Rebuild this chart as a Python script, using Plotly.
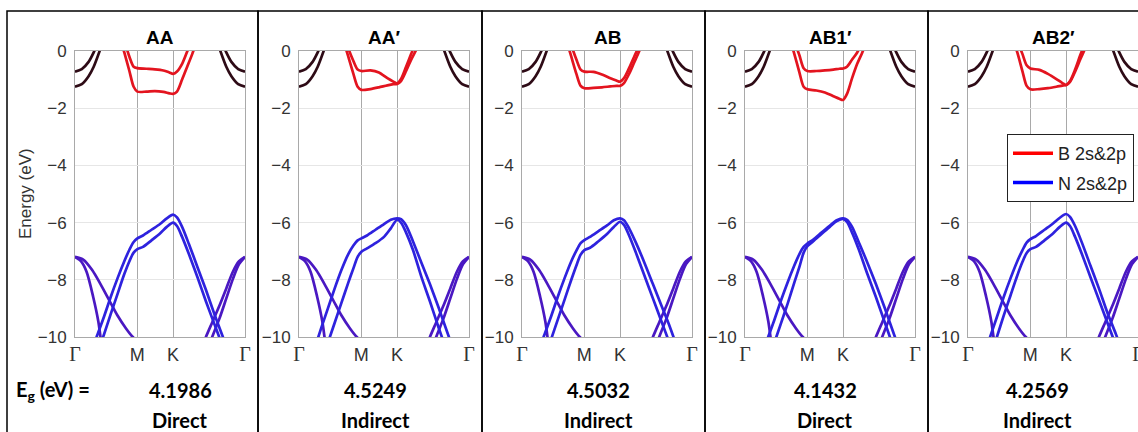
import plotly.graph_objects as go

W, H = 1138, 432

PANEL_TITLES = ["AA", "AA′", "AB", "AB1′", "AB2′"]
EG_VALUES = ["4.1986", "4.5249", "4.5032", "4.1432", "4.2569"]
GAP_TYPES = ["Direct", "Indirect", "Indirect", "Direct", "Indirect"]

K_M = 0.366
K_K = 0.577
X_TICKS = [0.0, K_M, K_K, 1.0]
X_TICK_LABELS = ["Γ", "M", "K", "Γ"]
Y_TICKS = [0, -2, -4, -6, -8, -10]
Y_TICK_LABELS = ["0", "−2", "−4", "−6", "−8", "−10"]

# conduction bands near Gamma (dark, interlayer states) - shared by all panels
CB_GL_K = [0.0, 0.04, 0.08, 0.11, 0.145, 0.17]
CB_GR_K = [1.0, 0.96, 0.92, 0.89, 0.855, 0.83]
CB_G_UPPER = [-0.72, -0.63, -0.38, -0.05, 0.45, 0.85]
CB_G_LOWER = [-1.25, -1.16, -0.88, -0.55, 0.0, 0.45]

# red conduction bands around M-K
KR = [0.26, 0.29, 0.32, 0.345, 0.367, 0.42, 0.47, 0.52, 0.555, 0.577, 0.60, 0.63, 0.66, 0.69, 0.72]
RED_UPPER = [
    [0.9, 0.36, -0.2, -0.55, -0.6, -0.62, -0.64, -0.68, -0.75, -0.8, -0.72, -0.45, -0.02, 0.4, 0.9],
    [0.8, 0.1, -0.35, -0.65, -0.7, -0.68, -0.75, -0.95, -1.07, -1.13, -0.98, -0.55, -0.1, 0.35, 0.85],
    [0.75, 0.2, -0.3, -0.65, -0.72, -0.73, -0.82, -0.95, -1.03, -1.07, -0.95, -0.6, -0.2, 0.2, 0.7],
    [0.9, 0.35, -0.15, -0.6, -0.70, -0.70, -0.68, -0.65, -0.62, -0.61, -0.55, -0.3, -0.05, 0.3, 0.8],
    [0.9, 0.35, -0.1, -0.5, -0.61, -0.66, -0.8, -0.98, -1.12, -1.19, -1.05, -0.65, -0.15, 0.3, 0.8],
]
RED_LOWER = [
    [0.55, -0.05, -0.7, -1.25, -1.42, -1.42, -1.40, -1.43, -1.48, -1.5, -1.42, -1.0, -0.55, -0.1, 0.4],
    [0.4, -0.2, -0.8, -1.25, -1.36, -1.33, -1.27, -1.2, -1.16, -1.15, -1.05, -0.7, -0.3, 0.05, 0.45],
    [0.4, -0.2, -0.8, -1.22, -1.3, -1.29, -1.27, -1.24, -1.22, -1.22, -1.12, -0.8, -0.4, 0.0, 0.45],
    [0.5, -0.1, -0.75, -1.25, -1.34, -1.38, -1.45, -1.58, -1.67, -1.71, -1.5, -0.95, -0.45, -0.05, 0.4],
    [0.5, -0.05, -0.7, -1.22, -1.34, -1.33, -1.3, -1.25, -1.21, -1.19, -1.08, -0.72, -0.3, 0.1, 0.5],
]

# top valence bands (M-K region)
KV = [0.10, 0.13, 0.17, 0.21, 0.25, 0.29, 0.32, 0.345, 0.367, 0.40, 0.45, 0.50, 0.54, 0.577,
      0.60, 0.63, 0.67, 0.72, 0.77, 0.82, 0.87, 0.90]
VB_UPPER = [
    [-10.45, -9.95, -9.3, -8.6, -7.95, -7.35, -6.95, -6.68, -6.55, -6.45, -6.25, -6.05, -5.85, -5.72, -5.82, -6.15, -6.75, -7.55, -8.35, -9.2, -10.0, -10.5],
    [-10.25, -9.7, -9.0, -8.3, -7.65, -7.1, -6.8, -6.62, -6.55, -6.45, -6.25, -6.05, -5.9, -5.85, -5.88, -6.1, -6.65, -7.4, -8.15, -8.95, -9.8, -10.3],
    [-10.45, -9.95, -9.3, -8.6, -7.95, -7.35, -6.98, -6.72, -6.61, -6.5, -6.3, -6.1, -5.92, -5.85, -5.92, -6.2, -6.7, -7.4, -8.15, -8.9, -9.65, -10.15],
    [-10.6, -10.1, -9.45, -8.75, -8.1, -7.5, -7.1, -6.85, -6.73, -6.6, -6.35, -6.1, -5.92, -5.85, -5.9, -6.15, -6.7, -7.4, -8.15, -8.95, -9.8, -10.3],
    [-10.5, -10.0, -9.3, -8.6, -7.95, -7.35, -6.97, -6.7, -6.58, -6.47, -6.25, -6.03, -5.83, -5.70, -5.8, -6.12, -6.7, -7.5, -8.3, -9.15, -9.9, -10.4],
]
VB_LOWER = [
    [-11.1, -10.6, -9.92, -9.2, -8.5, -7.8, -7.35, -7.05, -6.93, -6.85, -6.62, -6.38, -6.15, -6.0, -6.12, -6.5, -7.1, -7.9, -8.75, -9.55, -10.35, -10.85],
    [-11.4, -10.9, -10.2, -9.5, -8.8, -8.1, -7.6, -7.2, -7.02, -6.9, -6.72, -6.5, -6.2, -5.9, -6.0, -6.35, -6.95, -7.9, -8.75, -9.65, -10.5, -11.0],
    [-11.3, -10.8, -10.1, -9.4, -8.7, -8.0, -7.5, -7.12, -6.96, -6.88, -6.65, -6.4, -6.15, -5.97, -6.08, -6.45, -7.05, -7.85, -8.65, -9.45, -10.25, -10.75],
    [-11.5, -11.0, -10.25, -9.55, -8.85, -8.1, -7.55, -7.05, -6.82, -6.66, -6.4, -6.14, -5.95, -5.87, -5.98, -6.35, -6.95, -7.8, -8.6, -9.45, -10.3, -10.8],
    [-11.2, -10.7, -10.0, -9.25, -8.55, -7.85, -7.38, -7.06, -6.93, -6.85, -6.62, -6.38, -6.15, -6.0, -6.12, -6.5, -7.1, -7.9, -8.7, -9.5, -10.3, -10.8],
]

# valence bands leaving Gamma (shared)
VB_GL_STEEP_K = [0.0, 0.035, 0.068, 0.107, 0.137, 0.15, 0.165]
VB_GL_STEEP_E = [-7.2, -7.35, -7.72, -8.6, -9.45, -10.0, -10.7]
VB_GL_GENTLE_K = [0.0, 0.05, 0.10, 0.15, 0.20, 0.25, 0.30, 0.34, 0.37]
VB_GL_GENTLE_E = [-7.2, -7.3, -7.65, -8.15, -8.7, -9.25, -9.7, -10.0, -10.15]
VB_GR_A_K = [1.0, 0.965, 0.93, 0.89, 0.85, 0.81, 0.77, 0.75]
VB_GR_A_E = [-7.2, -7.35, -7.7, -8.3, -8.9, -9.45, -10.0, -10.3]
VB_GR_B_K = [1.0, 0.965, 0.93, 0.89, 0.85, 0.807, 0.78]
VB_GR_B_E = [-7.2, -7.45, -7.95, -8.65, -9.35, -10.0, -10.5]

DARK_CB = "#2e0b16"
RED_CB = "#e3141f"
VB_TOP = "#2e22de"
VB_GAMMA = "#4a18c2"

PLOT_LEFTS = [75, 299, 522, 745, 968]
PLOT_W = 170
PLOT_TOP, PLOT_BOT = 51, 337
BOX_X = [7, 258, 482, 705, 928, 1141]
BOX_TOP = 11
TEXT_X = [180, 375, 598, 825, 1037]

fig = go.Figure()


def band(k, e, color, i, width=2.7):
    suffix = "" if i == 0 else str(i + 1)
    fig.add_trace(go.Scatter(
        x=k, y=e, mode="lines",
        line=dict(color=color, width=width, shape="spline", smoothing=0.8),
        xaxis="x" + suffix, yaxis="y" + suffix,
        showlegend=False, hoverinfo="skip"))


for i in range(5):
    band(VB_GL_GENTLE_K, VB_GL_GENTLE_E, VB_GAMMA, i)
    band(VB_GL_STEEP_K, VB_GL_STEEP_E, VB_GAMMA, i)
    band(VB_GR_A_K, VB_GR_A_E, VB_GAMMA, i)
    band(VB_GR_B_K, VB_GR_B_E, VB_GAMMA, i)
    band(KV, VB_LOWER[i], VB_TOP, i)
    band(KV, VB_UPPER[i], VB_TOP, i)
    band(CB_GL_K, CB_G_UPPER, DARK_CB, i)
    band(CB_GL_K, CB_G_LOWER, DARK_CB, i)
    band(CB_GR_K, CB_G_UPPER, DARK_CB, i)
    band(CB_GR_K, CB_G_LOWER, DARK_CB, i)
    band(KR, RED_LOWER[i], RED_CB, i)
    band(KR, RED_UPPER[i], RED_CB, i)

# legend entries (in the last panel)
fig.add_trace(go.Scatter(x=[None], y=[None], mode="lines", name="B 2s&2p",
                         line=dict(color="#ff0000", width=3.5), xaxis="x5", yaxis="y5",
                         legendgroup="b"))
fig.add_trace(go.Scatter(x=[None], y=[None], mode="lines", name="N 2s&2p",
                         line=dict(color="#0000ff", width=3.5), xaxis="x5", yaxis="y5",
                         legendgroup="n"))

gamma_txt = "<span style=\"font-family:Liberation Serif;font-size:20px\">Γ</span>"
tick_text = [gamma_txt if t == "Γ" else t for t in X_TICK_LABELS]

layout = dict(
    width=W, height=H,
    margin=dict(l=0, r=0, t=0, b=0, autoexpand=False),
    paper_bgcolor="white", plot_bgcolor="white",
    font=dict(family="Liberation Sans", color="#333333"),
    showlegend=True,
    legend=dict(x=1007 / W, y=1 - 134 / H, xanchor="left", yanchor="top",
                bgcolor="white", bordercolor="#222222", borderwidth=1,
                font=dict(family="Liberation Sans", size=18, color="#222222"),
                traceorder="grouped", tracegroupgap=3, itemwidth=40),
)
ydom = [1 - PLOT_BOT / H, 1 - PLOT_TOP / H]
annotations = []
shapes = []
for i in range(5):
    suffix = "" if i == 0 else str(i + 1)
    left = PLOT_LEFTS[i]
    layout["xaxis" + suffix] = dict(
        domain=[left / W, min(1.0, (left + PLOT_W) / W)], anchor="y" + suffix,
        range=[0, 1], tickmode="array", tickvals=X_TICKS, ticktext=tick_text,
        showgrid=True, gridcolor="#a9a9a9", gridwidth=1, zeroline=False,
        showline=True, mirror=True, linecolor="#a9a9a9", linewidth=1,
        ticks="", tickfont=dict(size=18, color="#333333"), ticklabelstandoff=1,
        ticklabeloverflow="allow", fixedrange=True)
    layout["yaxis" + suffix] = dict(
        domain=ydom, anchor="x" + suffix, range=[-10, 0],
        tickmode="array", tickvals=Y_TICKS, ticktext=Y_TICK_LABELS,
        showgrid=True, gridcolor="#e6e6e6", gridwidth=1, zeroline=False,
        showline=True, mirror=True, linecolor="#a9a9a9", linewidth=1,
        ticks="", tickfont=dict(size=17, color="#333333"), ticklabelstandoff=4,
        fixedrange=True)
    annotations.append(dict(
        text="<b>" + PANEL_TITLES[i] + "</b>", x=(left + PLOT_W / 2) / W, y=1 - 37 / H,
        xref="paper", yref="paper", showarrow=False, xanchor="center", yanchor="middle",
        font=dict(family="Liberation Sans", size=19, color="black")))
    annotations.append(dict(
        text="<b>" + EG_VALUES[i] + "</b>", x=TEXT_X[i] / W, y=1 - 390 / H,
        xref="paper", yref="paper", showarrow=False, xanchor="center", yanchor="middle",
        font=dict(family="Lato", size=20, color="black")))
    annotations.append(dict(
        text="<b>" + GAP_TYPES[i] + "</b>", x=TEXT_X[i] / W, y=1 - 420 / H,
        xref="paper", yref="paper", showarrow=False, xanchor="center", yanchor="middle",
        font=dict(family="Lato", size=20, color="black")))
    shapes.append(dict(type="rect", xref="paper", yref="paper",
                       x0=BOX_X[i] / W, x1=BOX_X[i + 1] / W, y0=-0.05, y1=1 - BOX_TOP / H,
                       line=dict(color="black", width=1.5), layer="below"))

annotations.append(dict(
    text="<b>E<sub>g</sub> (eV) =</b>", x=14 / W, y=1 - 390 / H,
    xref="paper", yref="paper", showarrow=False, xanchor="left", yanchor="middle",
    font=dict(family="Lato", size=20, color="black")))
annotations.append(dict(
    text="Energy (eV)", x=25 / W, y=1 - 194 / H, textangle=-90,
    xref="paper", yref="paper", showarrow=False, xanchor="center", yanchor="middle",
    font=dict(family="Liberation Sans", size=17, color="#333333")))

layout["annotations"] = annotations
layout["shapes"] = shapes
fig.update_layout(**layout)
fig.write_html(
    "out.html",
    config={"displayModeBar": False},
    post_script="document.body.style.margin='0';document.body.style.overflow='hidden';",
)
